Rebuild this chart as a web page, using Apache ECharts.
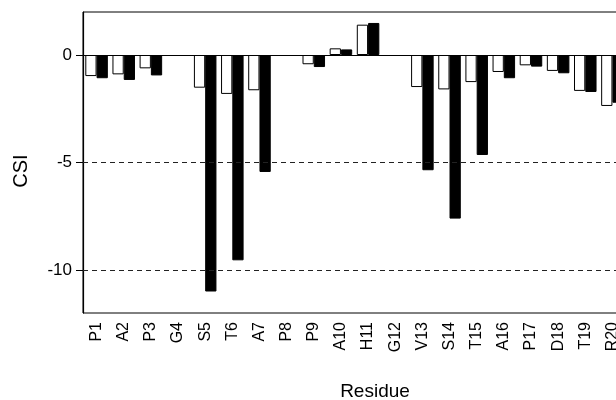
<!DOCTYPE html>
<html>
<head>
<meta charset="utf-8">
<script src="https://cdn.jsdelivr.net/npm/echarts@6/dist/echarts.min.js"></script>
<style>html,body{margin:0;padding:0;background:#fff;}#c{width:616px;height:400px;}</style>
</head>
<body>
<div id="c"></div>
<script>
var categories = ['P1','A2','P3','G4','S5','T6','A7','P8','P9','A10','H11','G12','V13','S14','T15','A16','P17','D18','T19','R20'];
var openValues = [-0.98,-0.9,-0.62,null,-1.52,-1.81,-1.64,null,-0.43,0.31,1.41,null,-1.49,-1.6,-1.26,-0.79,-0.48,-0.74,-1.67,-2.37];
var filledValues = [-1.08,-1.16,-0.95,null,-11.0,-9.55,-5.44,null,-0.56,0.26,1.49,null,-5.36,-7.61,-4.65,-1.08,-0.54,-0.85,-1.72,-2.22];
var yTicks = [0,-5,-10];
var refLines = [-5,-10];
var xName = 'Residue';
var yName = 'CSI';

var chart = echarts.init(document.getElementById('c'), null, {renderer:'canvas'});
var font = 'Liberation Sans, Arial, sans-serif';
var markData = [{yAxis:0, lineStyle:{type:'solid', color:'#000', width:1}}].concat(
  refLines.map(function(v){return {yAxis:v, lineStyle:{type:[5,4], color:'#222', width:1}};}));
chart.setOption({
  animation:false,
  backgroundColor:'#fff',
  grid:{left:83, top:12, height:301, width:543, containLabel:false, outerBoundsMode:'none',
        show:true, borderColor:'#000', borderWidth:1, backgroundColor:'transparent'},
  xAxis:{
    type:'category', data:categories,
    axisLine:{lineStyle:{color:'#000', width:1.2}},
    axisTick:{alignWithLabel:true, length:7, lineStyle:{color:'#000'}},
    axisLabel:{rotate:90, margin:9, fontSize:16, color:'#000', fontFamily:font, interval:0}
  },
  yAxis:{
    type:'value', min:-12, max:2,
    axisLine:{show:true, lineStyle:{color:'#000', width:1.2}},
    axisTick:{show:true, length:7, lineStyle:{color:'#000'}, customValues:yTicks},
    axisLabel:{fontSize:17, color:'#000', fontFamily:font, margin:11, customValues:yTicks},
    splitLine:{show:false}
  },
  graphic:[
    {type:'text', x:375, y:392, style:{text:xName, fontSize:19, fontFamily:font, fill:'#000', textAlign:'center', textVerticalAlign:'middle'}},
    {type:'text', x:21, y:171, rotation:Math.PI/2, style:{text:yName, fontSize:20, fontFamily:font, fill:'#000', textAlign:'center', textVerticalAlign:'middle'}}
  ],
  series:[
    {type:'bar', name:'open', data:openValues, barGap:'0%', barCategoryGap:'17%',
     itemStyle:{color:'#fff', borderColor:'#000', borderWidth:1},
     markLine:{silent:true, symbol:'none', label:{show:false}, data:markData}},
    {type:'bar', name:'filled', data:filledValues,
     itemStyle:{color:'#000', borderColor:'#000', borderWidth:1}}
  ]
});
</script>
</body>
</html>
